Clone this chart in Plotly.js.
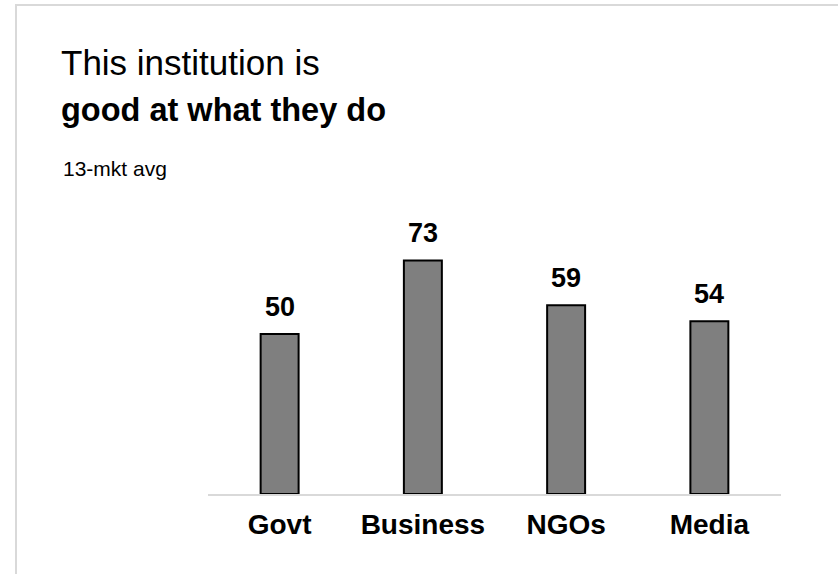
<!DOCTYPE html>
<html>
<head>
<meta charset="utf-8">
<script src="https://cdn.plot.ly/plotly-3.0.1.min.js"></script>
<style>
  html, body { margin: 0; padding: 0; background: #ffffff; }
  #frame { position: absolute; left: 15px; top: 4px; width: 900px; height: 700px; border: 2px solid #d9d9d9; box-sizing: border-box; }
  #chart { position: absolute; left: 0; top: 0; width: 838px; height: 574px; }
</style>
</head>
<body>
<div id="frame"></div>
<div id="chart"></div>
<script>
const categories = ["Govt", "Business", "NGOs", "Media"];
const values = [50, 73, 59, 54];
const titleLine1 = "This institution is";
const titleLine2 = "good at what they do";
const subtitle = "13-mkt avg";

const FONT = "Liberation Sans, Arial, sans-serif";

const trace = {
  type: "bar",
  x: categories,
  y: values,
  marker: { color: "#7f7f7f", line: { color: "#000000", width: 2 } },
  hoverinfo: "none"
};

const labelAnnotations = categories.map((c, i) => ({
  x: c, y: values[i], xref: "x", yref: "y",
  text: "<b>" + values[i] + "</b>",
  showarrow: false, yanchor: "bottom", yshift: 10,
  font: { family: FONT, size: 27, color: "#000000" }
}));

const layout = {
  width: 838, height: 574,
  margin: { l: 208, r: 57, t: 174, b: 80 },
  paper_bgcolor: "rgba(0,0,0,0)",
  plot_bgcolor: "rgba(0,0,0,0)",
  bargap: 0.735,
  showlegend: false,
  title: {
    text: titleLine1 + "<br><b><span style=\"font-size:32.5px\">" + titleLine2 + "</span></b>",
    font: { family: FONT, size: 35, color: "#000000" },
    x: 61 / 838, xanchor: "left", xref: "container",
    y: 1 - 75 / 574, yanchor: "top", yref: "container"
  },
  xaxis: {
    type: "category",
    showline: true, linecolor: "#d9d9d9", linewidth: 2,
    ticks: "", showgrid: false, zeroline: false,
    ticklabelstandoff: 4,
    tickfont: { family: FONT, size: 28, color: "#000000", weight: "bold" },
    fixedrange: true
  },
  yaxis: {
    range: [0, 100], visible: false, showgrid: false, zeroline: false, fixedrange: true
  },
  annotations: [
    {
      xref: "paper", yref: "paper",
      x: (61 - 208) / 573, y: (494 - 168) / 320,
      xanchor: "left", yanchor: "middle",
      text: subtitle, showarrow: false,
      font: { family: FONT, size: 21, color: "#000000" }
    }
  ].concat(labelAnnotations)
};

Plotly.newPlot("chart", [trace], layout, { displayModeBar: false, staticPlot: true });
</script>
</body>
</html>
